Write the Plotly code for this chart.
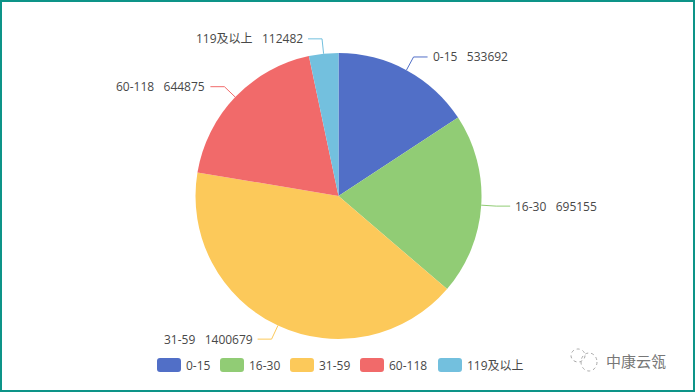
import math
import plotly.graph_objects as go

categories = ["0-15", "16-30", "31-59", "60-118", "119及以上"]
values = [533692, 695155, 1400679, 644875, 112482]
colors = ["#516fc7", "#91cc75", "#fcc95a", "#f16a6a", "#73c0de"]
legend_x = [157, 220, 290, 360, 438]

W, H = 695, 392
CX, CY, R = 338.5, 196, 143
FONT = "Open Sans, Noto Sans CJK SC, sans-serif"
TEXT = "#484848"

def px(x): return x / W
def py(y): return 1 - y / H

fig = go.Figure(go.Pie(
    labels=categories, values=values, sort=False, direction="clockwise", rotation=0,
    marker=dict(colors=colors, line=dict(width=0)), textinfo="none", hoverinfo="label+value",
    showlegend=False,
    domain=dict(x=[px(CX - R), px(CX + R)], y=[py(CY + R), py(CY - R)]),
))

shapes, annotations = [], []

def p(x, y):
    return f"{px(x):.5f},{py(y):.5f}"

# Leader lines and labels follow the slice mid-angles
total = sum(values)
cum = 0
for cat, val, col in zip(categories, values, colors):
    a = 2 * math.pi * (cum + val / 2) / total
    cum += val
    s, c = math.sin(a), math.cos(a)
    x0, y0 = CX + R * s, CY - R * c
    x1, y1 = CX + (R + 15) * s, CY - (R + 15) * c
    d = 1 if s >= 0 else -1
    x2 = x1 + d * 14
    shapes.append(dict(type="path", path=f"M{p(x0, y0)} L{p(x1, y1)} L{p(x2, y1)}",
                       xref="paper", yref="paper", line=dict(color=col, width=1), layer="above"))
    annotations.append(dict(
        x=px(x2 + d * 5), y=py(y1), xref="paper", yref="paper", showarrow=False,
        text=f"{cat}\u00a0\u00a0\u00a0{val}", xanchor="left" if d > 0 else "right", yanchor="middle",
        font=dict(family=FONT, size=12, color=TEXT), borderpad=0, borderwidth=0,
    ))

# Legend with rounded swatches
ly0, ly1 = 358, 372
for cat, col, lx in zip(categories, colors, legend_x):
    x0, x1 = lx, lx + 24
    r = 3
    path = (f"M{p(x0 + r, ly0)} L{p(x1 - r, ly0)} Q{p(x1, ly0)} {p(x1, ly0 + r)} "
            f"L{p(x1, ly1 - r)} Q{p(x1, ly1)} {p(x1 - r, ly1)} L{p(x0 + r, ly1)} "
            f"Q{p(x0, ly1)} {p(x0, ly1 - r)} L{p(x0, ly0 + r)} Q{p(x0, ly0)} {p(x0 + r, ly0)} Z")
    shapes.append(dict(type="path", path=path, xref="paper", yref="paper",
                       fillcolor=col, line=dict(width=0), layer="above"))
    annotations.append(dict(
        x=px(x1 + 5), y=py((ly0 + ly1) / 2), xref="paper", yref="paper", showarrow=False,
        text=cat, xanchor="left", yanchor="middle", borderpad=0, borderwidth=0,
        font=dict(family=FONT, size=12, color=TEXT),
    ))

# Frame
shapes.append(dict(type="rect", xref="paper", yref="paper", x0=px(1), x1=px(W - 1),
                   y0=py(H - 1), y1=py(1), line=dict(color="#0d9488", width=2), layer="above"))

# Watermark
for (x0, y0, x1, y1) in [(571, 349, 585, 362), (581, 353, 597, 371)]:
    shapes.append(dict(type="circle", xref="paper", yref="paper", x0=px(x0), x1=px(x1),
                       y0=py(y1), y1=py(y0), line=dict(color="#a8a8a8", width=1, dash="dot"), layer="above"))
annotations.append(dict(
    x=px(606), y=py(361), xref="paper", yref="paper", showarrow=False, text="中康云瓴",
    xanchor="left", yanchor="middle", borderpad=0, borderwidth=0,
    font=dict(family=FONT, size=15, color="#777777"),
))

fig.update_layout(
    width=W, height=H, margin=dict(l=0, r=0, t=0, b=0),
    paper_bgcolor="white", plot_bgcolor="white",
    shapes=shapes, annotations=annotations,
)
fig.write_html("out.html", config=dict(displayModeBar=False),
               post_script="document.body.style.margin='0';document.documentElement.style.overflow='hidden';")
